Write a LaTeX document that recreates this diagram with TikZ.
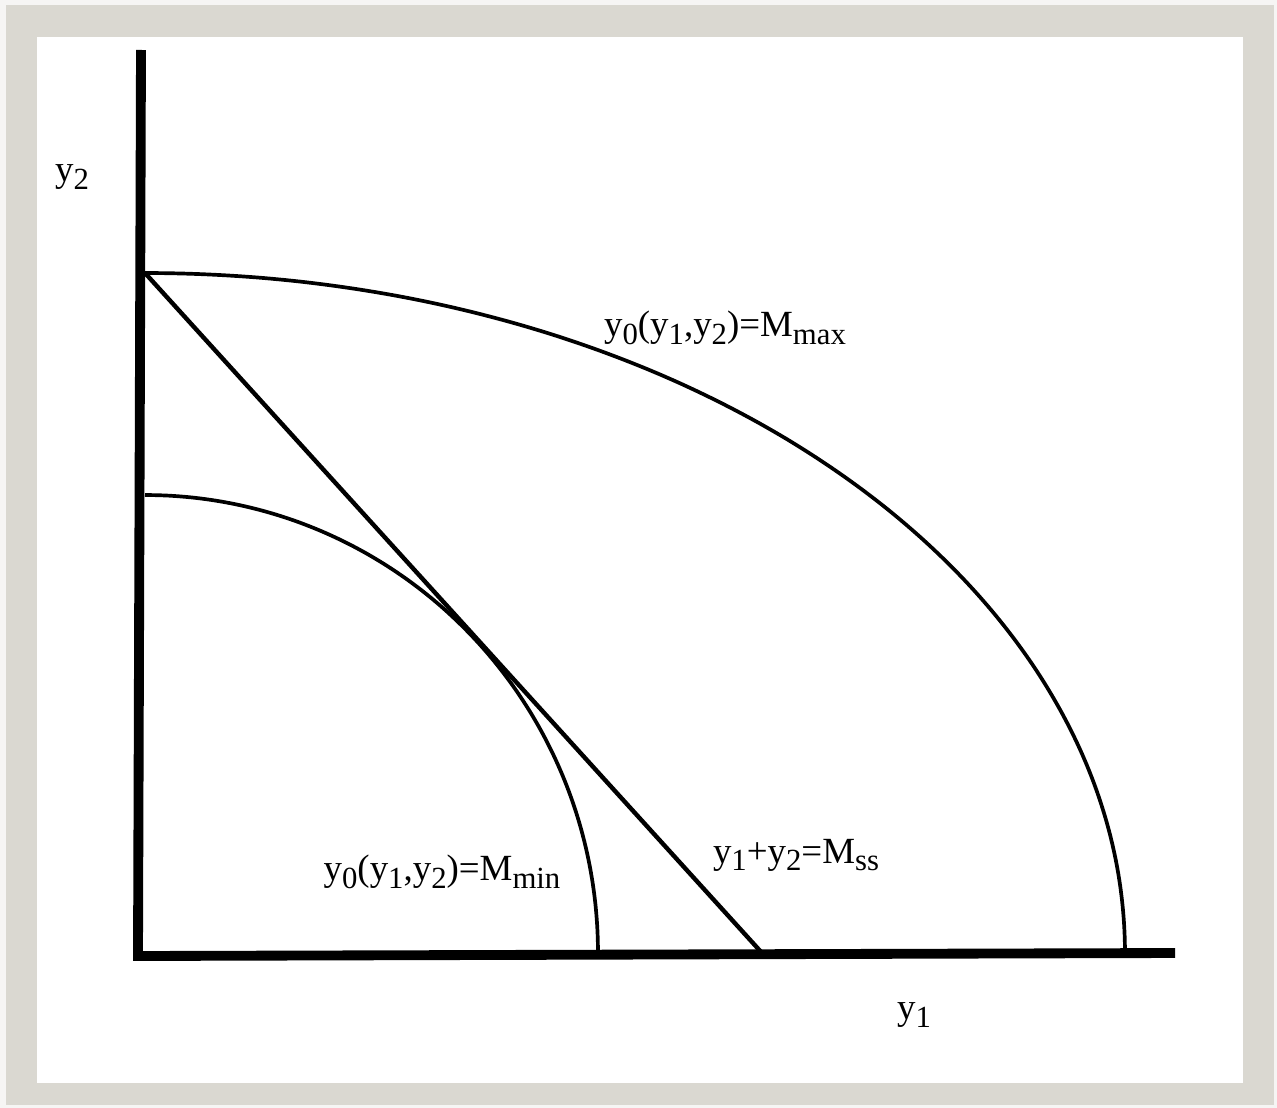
\documentclass[tikz,border=0pt]{standalone}
\usepackage{fontspec}
\setmainfont{Liberation Serif}
\definecolor{framegrey}{HTML}{DAD8D1}
\newcommand{\lowsub}[1]{\raisebox{-0.45ex}{\fontsize{17.5}{17.5}\selectfont #1}}

\begin{document}
\begin{tikzpicture}[x=0.02cm,y=-0.02cm,font=\fontsize{21}{21}\selectfont]
    % frame
    \fill[framegrey!25] (0,0) rectangle (1277,1108);
    \fill[framegrey] (6,5) rectangle (1274,1105);
    \fill[white] (37,37) rectangle (1243,1083);
    % axes
    \draw[line width=5.6pt] (141,50) -- (138,956) -- (1175,953);
    % curves
    \draw[line width=2.1pt,domain=0:90,samples=80,smooth] plot ({145+980*cos(\x)},{953-680*sin(\x)});
    \draw[line width=2.1pt,domain=0:90,samples=60,smooth] plot ({145+453*cos(\x)},{953-458*sin(\x)});
    \draw[line width=2.5pt] (145,273) -- (762,953);
    % labels
    \node (ytwo) at (72,177) {y\lowsub{2}};
    \node (yone) at (914,1015) {y\lowsub{1}};
    \node (maxlbl) at (725,328) {y\lowsub{0}(y\lowsub{1},y\lowsub{2})=M\lowsub{max}};
    \node (minlbl) at (442,872) {y\lowsub{0}(y\lowsub{1},y\lowsub{2})=M\lowsub{min}};
    \node (sslbl) at (796,855) {y\lowsub{1}+y\lowsub{2}=M\lowsub{ss}};
  \end{tikzpicture}
\end{document}
